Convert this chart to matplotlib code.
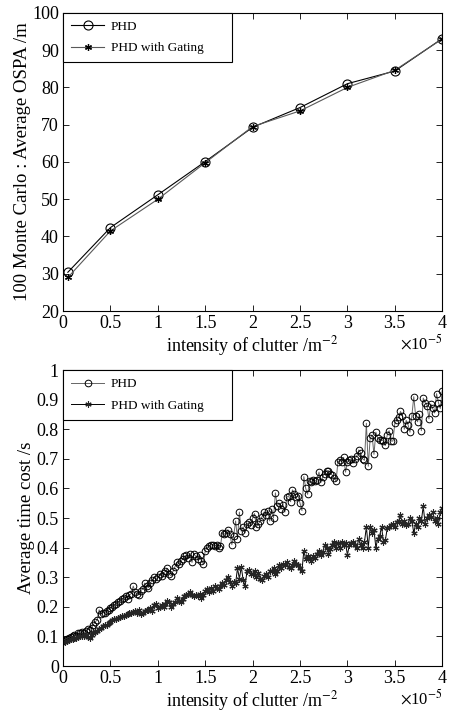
import matplotlib.pyplot as plt
import numpy as np

plt.rcParams['font.family'] = 'Liberation Serif'
plt.rcParams['mathtext.fontset'] = 'stix'

# --- Donnees : OSPA moyenne (100 Monte Carlo) ---
clutter_ospa = [0.05, 0.5, 1.0, 1.5, 2.0, 2.5, 3.0, 3.5, 4.0]  # x 1e-5
ospa_phd = [30.4, 42.4, 51.2, 60.1, 69.3, 74.6, 81.0, 84.4, 93.1]
ospa_gating = [29.0, 41.5, 50.0, 59.8, 69.5, 73.7, 80.0, 84.6, 93.0]

# --- Donnees : temps de calcul moyen ---
clutter_time = np.arange(201) * 0.02  # x 1e-5
time_phd = [
    0.085, 0.088, 0.092, 0.095, 0.098, 0.100, 0.105, 0.103, 0.110, 0.112,
    0.115, 0.112, 0.120, 0.125, 0.122, 0.130, 0.140, 0.150, 0.155, 0.190,
    0.175, 0.180, 0.180, 0.185, 0.190, 0.195, 0.200, 0.205, 0.210, 0.215,
    0.220, 0.225, 0.230, 0.235, 0.228, 0.240, 0.245, 0.270, 0.250, 0.245,
    0.240, 0.255, 0.260, 0.280, 0.270, 0.265, 0.280, 0.290, 0.300, 0.295,
    0.300, 0.310, 0.305, 0.315, 0.320, 0.330, 0.310, 0.305, 0.320, 0.335,
    0.350, 0.345, 0.355, 0.360, 0.370, 0.375, 0.365, 0.380, 0.350, 0.380,
    0.370, 0.360, 0.375, 0.355, 0.345, 0.390, 0.400, 0.405, 0.410, 0.410,
    0.405, 0.410, 0.400, 0.405, 0.450, 0.445, 0.450, 0.460, 0.445, 0.410,
    0.440, 0.490, 0.430, 0.520, 0.455, 0.470, 0.450, 0.480, 0.485, 0.475,
    0.500, 0.515, 0.470, 0.480, 0.490, 0.505, 0.520, 0.510, 0.525, 0.490,
    0.530, 0.500, 0.585, 0.540, 0.550, 0.530, 0.545, 0.520, 0.570, 0.575,
    0.555, 0.595, 0.580, 0.570, 0.575, 0.550, 0.525, 0.640, 0.600, 0.580,
    0.625, 0.620, 0.630, 0.625, 0.630, 0.655, 0.620, 0.640, 0.650, 0.660,
    0.660, 0.650, 0.645, 0.635, 0.625, 0.690, 0.695, 0.690, 0.705, 0.655,
    0.690, 0.695, 0.700, 0.685, 0.700, 0.710, 0.730, 0.720, 0.700, 0.695,
    0.820, 0.675, 0.770, 0.780, 0.715, 0.790, 0.770, 0.765, 0.765, 0.760,
    0.745, 0.780, 0.795, 0.760, 0.760, 0.820, 0.830, 0.840, 0.860, 0.845,
    0.800, 0.830, 0.815, 0.790, 0.845, 0.910, 0.845, 0.825, 0.850, 0.795,
    0.905, 0.890, 0.880, 0.835, 0.885, 0.870, 0.855, 0.920, 0.890, 0.870,
    0.930,
]
time_gating = [
    0.080, 0.082, 0.085, 0.088, 0.090, 0.092, 0.095, 0.093, 0.098, 0.100,
    0.100, 0.102, 0.105, 0.098, 0.095, 0.105, 0.110, 0.115, 0.120, 0.125,
    0.130, 0.135, 0.140, 0.140, 0.145, 0.150, 0.155, 0.160, 0.158, 0.162,
    0.165, 0.170, 0.168, 0.172, 0.175, 0.180, 0.178, 0.182, 0.185, 0.180,
    0.190, 0.175, 0.180, 0.185, 0.190, 0.188, 0.195, 0.185, 0.205, 0.210,
    0.195, 0.200, 0.205, 0.200, 0.210, 0.220, 0.215, 0.200, 0.210, 0.215,
    0.230, 0.220, 0.215, 0.225, 0.235, 0.240, 0.245, 0.250, 0.240, 0.235,
    0.240, 0.235, 0.245, 0.230, 0.240, 0.255, 0.260, 0.250, 0.265, 0.255,
    0.270, 0.265, 0.260, 0.270, 0.280, 0.275, 0.290, 0.300, 0.285, 0.270,
    0.285, 0.280, 0.330, 0.295, 0.335, 0.290, 0.270, 0.320, 0.325, 0.310,
    0.310, 0.320, 0.300, 0.315, 0.295, 0.290, 0.305, 0.310, 0.300, 0.320,
    0.320, 0.330, 0.310, 0.320, 0.340, 0.330, 0.345, 0.340, 0.350, 0.335,
    0.330, 0.340, 0.355, 0.345, 0.340, 0.330, 0.320, 0.390, 0.360, 0.370,
    0.360, 0.355, 0.370, 0.365, 0.380, 0.390, 0.375, 0.385, 0.410, 0.400,
    0.380, 0.395, 0.410, 0.420, 0.400, 0.415, 0.400, 0.420, 0.410, 0.415,
    0.375, 0.410, 0.415, 0.420, 0.410, 0.400, 0.430, 0.410, 0.400, 0.420,
    0.470, 0.400, 0.470, 0.450, 0.460, 0.400, 0.430, 0.440, 0.470, 0.420,
    0.425, 0.465, 0.470, 0.475, 0.480, 0.470, 0.485, 0.490, 0.510, 0.480,
    0.490, 0.475, 0.480, 0.500, 0.490, 0.450, 0.480, 0.470, 0.500, 0.490,
    0.540, 0.480, 0.500, 0.510, 0.505, 0.520, 0.490, 0.500, 0.480, 0.520,
    0.535,
]

fig = plt.figure(figsize=(4.54, 7.15), dpi=100)
ax1 = fig.add_axes([0.139, 0.565, 0.835, 0.417])
ax2 = fig.add_axes([0.139, 0.0685, 0.835, 0.414])

asterisk = (6, 2, 0)
xlabels = ['0', '0.5', '1', '1.5', '2', '2.5', '3', '3.5', '4']

# --- Graphe du haut : OSPA ---
ax1.plot(clutter_ospa, ospa_phd, color='black', lw=0.8, marker='o', ms=6.5,
         mfc='none', mec='black', mew=0.8, label='PHD')
ax1.plot(clutter_ospa, ospa_gating, color='0.35', lw=0.8, marker=asterisk, ms=5,
         mec='black', mew=0.9, label='PHD with Gating')
ax1.set_xlim(0, 4)
ax1.set_ylim(20, 100)
ax1.set_xticks(np.arange(0, 4.01, 0.5))
ax1.set_xticklabels(xlabels)
ax1.set_yticks(np.arange(20, 101, 10))
ax1.set_xlabel('intensity of clutter /m$^{-2}$', fontsize=13, labelpad=1)
ax1.set_ylabel('100 Monte Carlo : Average OSPA /m', fontsize=13.5, labelpad=1)

# --- Graphe du bas : temps de calcul ---
ax2.plot(clutter_time, time_phd, color='0.4', lw=0.7, marker='o', ms=4.8,
         mfc='none', mec='black', mew=0.7, label='PHD')
ax2.plot(clutter_time, time_gating, color='black', lw=0.7, marker=asterisk, ms=4.5,
         mec='0.15', mew=0.8, label='PHD with Gating')
ax2.set_xlim(0, 4)
ax2.set_ylim(0, 1)
ax2.set_xticks(np.arange(0, 4.01, 0.5))
ax2.set_xticklabels(xlabels)
ax2.set_yticks(np.arange(0, 1.01, 0.1))
ax2.set_yticklabels(['0', '0.1', '0.2', '0.3', '0.4', '0.5', '0.6', '0.7', '0.8', '0.9', '1'])
ax2.set_xlabel('intensity of clutter /m$^{-2}$', fontsize=13, labelpad=1)
ax2.set_ylabel('Average time cost /s', fontsize=13.5, labelpad=1)

for ax in (ax1, ax2):
    ax.tick_params(direction='in', length=4, width=0.6, top=True, right=True,
                   labelsize=13, pad=3)
    for s in ax.spines.values():
        s.set_linewidth(0.8)
    # legende etiree jusqu'a ~45% de la largeur, comme l'original
    leg = ax.legend(loc='upper left', bbox_to_anchor=(0, 1, 0.446, 0), mode='expand',
                    fontsize=9.5, fancybox=False, framealpha=1,
                    edgecolor='black', borderaxespad=0, handlelength=2.5,
                    handletextpad=0.5, borderpad=0.6, labelspacing=0.7)
    leg.get_frame().set_linewidth(0.8)
    # facteur d'echelle de l'axe x
    ax.text(1.0, -0.075, r'$\times$10$^{-5}$', transform=ax.transAxes,
            ha='right', va='top', fontsize=12)

fig.savefig('out.png', dpi=100)
